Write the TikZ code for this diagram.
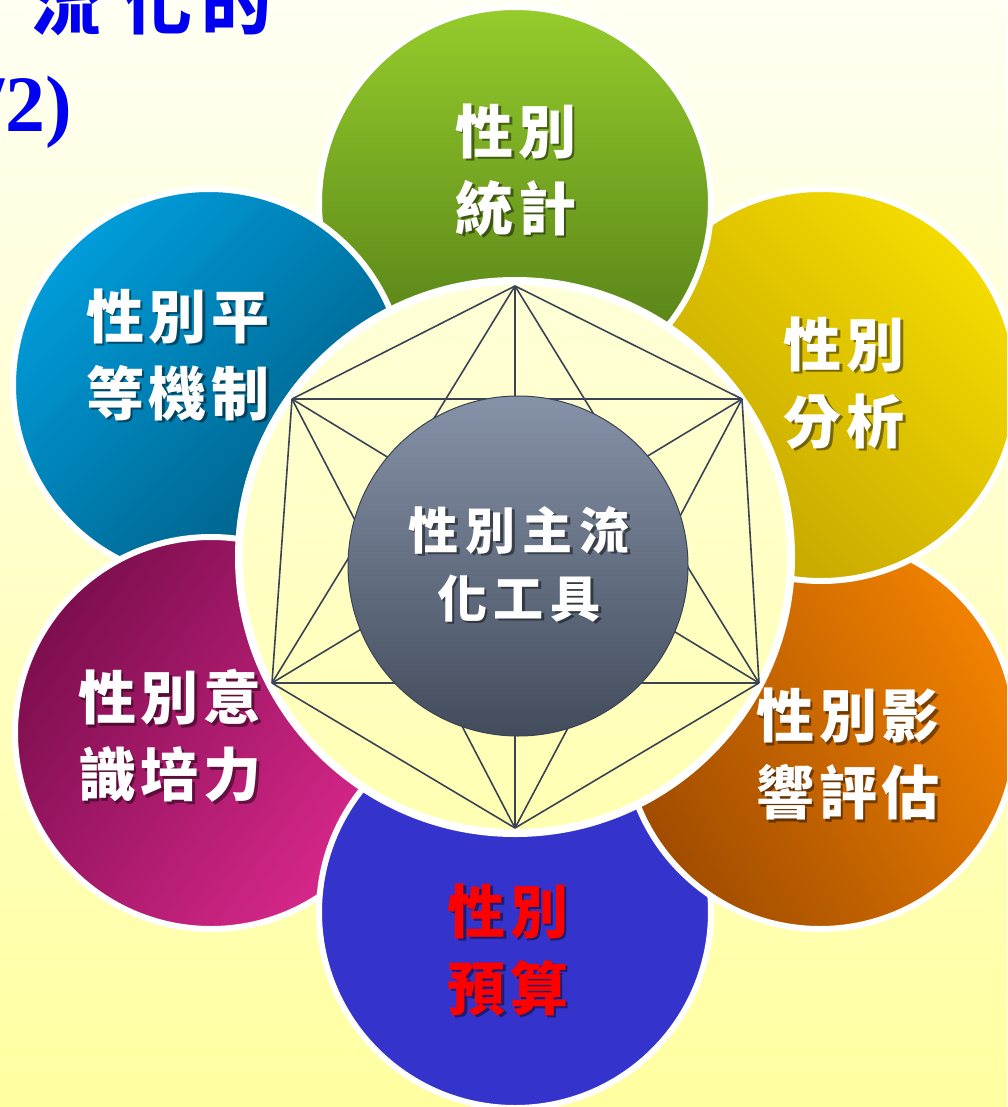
\documentclass[tikz,border=0pt]{standalone}
\usepackage{fontspec}
\newfontfamily\cjk{Noto Sans CJK TC}
\newfontfamily\romanfont{Liberation Serif}
\usetikzlibrary{calc}
\definecolor{bgtop}{HTML}{FFFFF3}
\definecolor{bgbot}{HTML}{FFFFA0}
\definecolor{paletop}{HTML}{FFFFD8}
\definecolor{palebot}{HTML}{FFFFB2}
\definecolor{greentop}{HTML}{96CC2C}
\definecolor{greenbot}{HTML}{4C7614}
\definecolor{yellowhi}{HTML}{F4DC00}
\definecolor{yellowlo}{HTML}{C2A200}
\definecolor{orangehi}{HTML}{F28200}
\definecolor{orangelo}{HTML}{A04C00}
\definecolor{bluefill}{HTML}{3434CC}
\definecolor{magentalo}{HTML}{7C0E4E}
\definecolor{magentahi}{HTML}{DA288C}
\definecolor{tealhi}{HTML}{009CDA}
\definecolor{teallo}{HTML}{005A80}
\definecolor{hubtop}{HTML}{8692A8}
\definecolor{hubbot}{HTML}{424C5C}
\definecolor{kline}{HTML}{3A4354}
\definecolor{titleblue}{HTML}{0000F0}
\definecolor{redtext}{HTML}{FF0000}
\begin{document}
\begin{tikzpicture}[x=1pt,y=1pt,
  petal/.style={circle, minimum size=392pt, inner sep=0pt, draw=white, line width=6pt},
  ptxt/.style={font=\cjk\bfseries\fontsize{58}{77}\selectfont, align=center, inner sep=0pt},
  htxt/.style={font=\cjk\bfseries\fontsize{50}{68}\selectfont, align=center, inner sep=0pt},
  ttlcjk/.style={font=\cjk\bfseries\fontsize{70}{70}\selectfont, text=titleblue, inner sep=0pt},
  ttlrom/.style={font=\romanfont\bfseries\fontsize{80}{80}\selectfont, text=titleblue, inner sep=0pt},
  kedge/.style={draw=kline, line width=1.6pt},
  shd/.style={text=black, opacity=0.45, xshift=2.5pt, yshift=-2.5pt}
]
\path[use as bounding box] (0,0) rectangle (1007,-1107);
\clip (0,0) rectangle (1007,-1107);
\shade[top color=bgtop, bottom color=bgbot] (0,0) rectangle (1007,-1107);

% title (partly outside the page)
\node[ttlcjk] (tz) at (-31,-2) {主};
\node[ttlcjk] (tl) at (66,-2) {流};
\node[ttlcjk] (th) at (157,-2) {化};
\node[ttlcjk] (td) at (236,-2) {的};
\node[ttlrom, anchor=base east] (tn) at (72,-132) {(2/2)};

% petals
\node[petal, top color=tealhi, bottom color=teallo, shading angle=45] (teal) at (209,-385) {};
\node[petal, top color=magentalo, bottom color=magentahi, shading angle=55] (magenta) at (211,-733) {};
\node[petal, fill=bluefill] (blue) at (515,-912) {};
\node[petal, top color=orangehi, bottom color=orangelo, shading angle=-60] (orange) at (820,-733) {};
\node[petal, top color=yellowhi, bottom color=yellowlo, shading angle=-45] (yellow) at (821,-385) {};
\node[petal, top color=greentop, bottom color=greenbot] (green) at (515,-203) {};
\begin{scope}
  \clip (0,0) rectangle (430,-372);
  \node[petal, top color=tealhi, bottom color=teallo, shading angle=45] (tealtop) at (209,-385) {};
\end{scope}

% pale disc
\node[circle, minimum size=552pt, inner sep=0pt, draw=white, line width=8pt,
      top color=paletop, bottom color=palebot] (pale) at (515,-557) {};

% hexagon vertices and complete graph
\coordinate (vT) at (515,-286);
\coordinate (vUR) at (742,-399);
\coordinate (vLR) at (759,-683);
\coordinate (vB) at (515,-828);
\coordinate (vLL) at (272,-683);
\coordinate (vUL) at (292,-399);
\foreach \a/\b in {vT/vUR, vT/vLR, vT/vB, vT/vLL, vT/vUL,
                   vUR/vLR, vUR/vB, vUR/vLL, vUR/vUL,
                   vLR/vB, vLR/vLL, vLR/vUL,
                   vB/vLL, vB/vUL, vLL/vUL}
  \draw[kedge, line join=round] (\a) -- (\b);

% hub
\node[circle, minimum size=340pt, inner sep=0pt, draw=kline, line width=1pt,
      top color=hubtop, bottom color=hubbot] (hub) at (518,-566) {};

% texts with shadows
\node[htxt, shd] (hubts) at (519,-564) {性\kern7pt 別\kern7pt 主\kern7pt 流\\化\kern7pt 工\kern7pt 具};
\node[htxt, text=white] (hubt) at (519,-564) {性\kern7pt 別\kern7pt 主\kern7pt 流\\化\kern7pt 工\kern7pt 具};

\node[ptxt, shd] (greents) at (516,-170) {性\kern5pt 別\\統\kern5pt 計};
\node[ptxt, text=white] (greent) at (516,-170) {性\kern5pt 別\\統\kern5pt 計};

\node[ptxt, shd] (yellowts) at (844,-383) {性\kern5pt 別\\分\kern5pt 析};
\node[ptxt, text=white] (yellowt) at (844,-383) {性\kern5pt 別\\分\kern5pt 析};

\node[ptxt, shd] (orangets) at (848,-754) {性\kern5pt 別\kern5pt 影\\響\kern5pt 評\kern5pt 估};
\node[ptxt, text=white] (oranget) at (848,-754) {性\kern5pt 別\kern5pt 影\\響\kern5pt 評\kern5pt 估};

\node[ptxt, shd] (bluets) at (508,-950) {性\kern5pt 別\\預\kern5pt 算};
\node[ptxt, text=redtext] (bluet) at (508,-950) {性\kern5pt 別\\預\kern5pt 算};

\node[ptxt, shd] (magentats) at (170,-736) {性\kern5pt 別\kern5pt 意\\識\kern5pt 培\kern5pt 力};
\node[ptxt, text=white] (magentat) at (170,-736) {性\kern5pt 別\kern5pt 意\\識\kern5pt 培\kern5pt 力};

\node[ptxt, shd] (tealts) at (178,-355) {性\kern5pt 別\kern5pt 平\\等\kern5pt 機\kern5pt 制};
\node[ptxt, text=white] (tealt) at (178,-355) {性\kern5pt 別\kern5pt 平\\等\kern5pt 機\kern5pt 制};
\end{tikzpicture}
\end{document}
